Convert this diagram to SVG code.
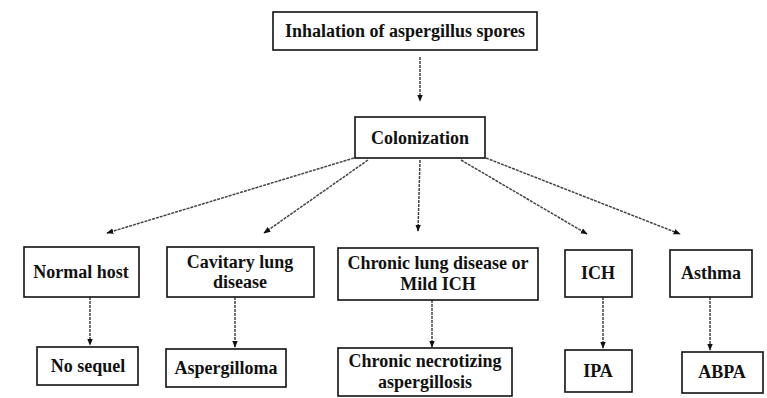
<svg xmlns="http://www.w3.org/2000/svg" width="767" height="398" viewBox="0 0 767 398">
<style>
.box{fill:#fff;stroke:#111;stroke-width:1.6}
.t{font-family:"Liberation Serif",serif;font-size:18px;font-weight:bold;fill:#111;text-anchor:middle}
.c{stroke:#444;stroke-width:1.5;fill:none;stroke-dasharray:3 1;marker-end:url(#ah)}
</style>
<defs>
<marker id="ah" viewBox="0 0 10 10" refX="9" refY="5" markerWidth="7" markerHeight="7" orient="auto" markerUnits="userSpaceOnUse">
<path d="M0,1 L10,5 L0,9 z" fill="#111"/>
</marker>
</defs>
<rect width="767" height="398" fill="#fff"/>
<g id="connectors">
<path class="c" d="M420,57 L420,101"/>
<path class="c" d="M354,158 L107,233"/>
<path class="c" d="M368,160 L264,233"/>
<path class="c" d="M420,160 L418,231"/>
<path class="c" d="M461,160 L587,234"/>
<path class="c" d="M486,158 L680,234"/>
<path class="c" d="M90,297 L90,345"/>
<path class="c" d="M235,297 L235,347"/>
<path class="c" d="M432,300 L432,347"/>
<path class="c" d="M603,297 L603,348"/>
<path class="c" d="M710,297 L710,350"/>
</g>
<g id="n-inhalation"><rect class="box" x="273" y="12" width="264" height="38"/><text class="t" x="405" y="37">Inhalation of aspergillus spores</text></g>
<g id="n-colonization"><rect class="box" x="355" y="117" width="130" height="41"/><text class="t" x="420" y="144">Colonization</text></g>
<g id="n-normal"><rect class="box" x="24" y="247" width="115" height="50"/><text class="t" x="81" y="278">Normal host</text></g>
<g id="n-cavitary"><rect class="box" x="167" y="247" width="147" height="50"/><text class="t" x="240" y="268">Cavitary lung</text><text class="t" x="240" y="288">disease</text></g>
<g id="n-chronic"><rect class="box" x="338" y="248" width="200" height="52"/><text class="t" x="438" y="269">Chronic lung disease or</text><text class="t" x="438" y="290">Mild ICH</text></g>
<g id="n-ich"><rect class="box" x="565" y="250" width="67" height="47"/><text class="t" x="598" y="279">ICH</text></g>
<g id="n-asthma"><rect class="box" x="670" y="250" width="82" height="47"/><text class="t" x="711" y="279">Asthma</text></g>
<g id="n-nosequel"><rect class="box" x="37" y="347" width="101" height="38"/><text class="t" x="88" y="372">No sequel</text></g>
<g id="n-aspergilloma"><rect class="box" x="166" y="349" width="120" height="38"/><text class="t" x="226" y="374">Aspergilloma</text></g>
<g id="n-cna"><rect class="box" x="338" y="348" width="174" height="48"/><text class="t" x="425" y="367">Chronic necrotizing</text><text class="t" x="425" y="388">aspergillosis</text></g>
<g id="n-ipa"><rect class="box" x="565" y="350" width="67" height="42"/><text class="t" x="598" y="377">IPA</text></g>
<g id="n-abpa"><rect class="box" x="682" y="352" width="81" height="41"/><text class="t" x="722" y="378">ABPA</text></g>
</svg>
